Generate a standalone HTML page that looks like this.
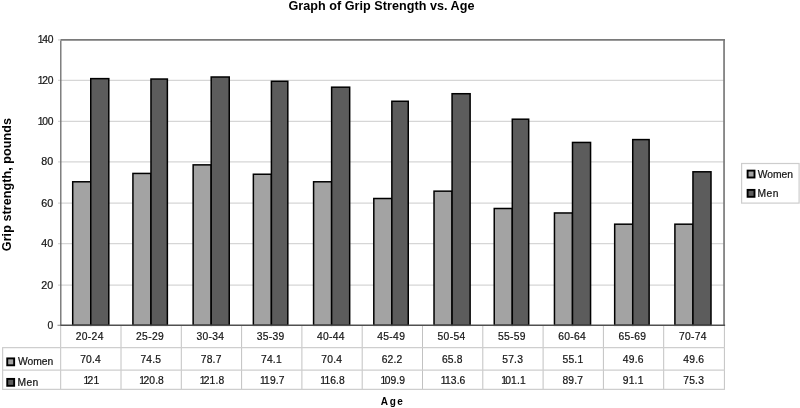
<!DOCTYPE html>
<html><head><meta charset="utf-8"><title>Graph of Grip Strength vs. Age</title>
<style>html,body{margin:0;padding:0;background:#fff;width:800px;height:408px;overflow:hidden;font-family:"Liberation Sans",sans-serif}svg{display:block;position:absolute;left:0;top:0;will-change:transform}</style></head>
<body>
<svg width="800" height="408" viewBox="0 0 800 408" font-family="Liberation Sans, sans-serif">
<rect width="800" height="408" fill="#fff"/>
<g stroke="#d6d6d6" stroke-width="1.25">
<line x1="58.0" x2="724.4" y1="285.10" y2="285.10"/>
<line x1="58.0" x2="724.4" y1="243.60" y2="243.60"/>
<line x1="58.0" x2="724.4" y1="203.00" y2="203.00"/>
<line x1="58.0" x2="724.4" y1="161.80" y2="161.80"/>
<line x1="58.0" x2="724.4" y1="121.30" y2="121.30"/>
<line x1="58.0" x2="724.4" y1="80.30" y2="80.30"/>
</g>
<path d="M60.8 325.3 V39.199999999999996" fill="none" stroke="#6a6a6a" stroke-width="1.3"/>
<path d="M60.15 39.949999999999996 H725.0 M724.05 39.9 V325.3" fill="none" stroke="#7a7a7a" stroke-width="1.7"/>
<line x1="58.0" x2="61.0" y1="39.9" y2="39.9" stroke="#d0d0d0" stroke-width="1.2"/>
<g stroke="#000" stroke-width="1.5">
<rect x="72.70" y="181.78" width="18.05" height="143.52" fill="#a3a3a3"/>
<rect x="90.75" y="78.63" width="18.05" height="246.67" fill="#5c5c5c"/>
<rect x="132.92" y="173.43" width="18.05" height="151.87" fill="#a3a3a3"/>
<rect x="150.97" y="79.04" width="16.4" height="246.26" fill="#5c5c5c"/>
<rect x="193.14" y="164.86" width="18.05" height="160.44" fill="#a3a3a3"/>
<rect x="211.19" y="77.00" width="18.05" height="248.30" fill="#5c5c5c"/>
<rect x="253.36" y="174.24" width="18.05" height="151.06" fill="#a3a3a3"/>
<rect x="271.41" y="81.28" width="16.4" height="244.02" fill="#5c5c5c"/>
<rect x="313.58" y="181.78" width="18.05" height="143.52" fill="#a3a3a3"/>
<rect x="331.63" y="87.19" width="18.05" height="238.11" fill="#5c5c5c"/>
<rect x="373.80" y="198.50" width="18.05" height="126.80" fill="#a3a3a3"/>
<rect x="391.85" y="101.26" width="16.4" height="224.04" fill="#5c5c5c"/>
<rect x="434.02" y="191.16" width="18.05" height="134.14" fill="#a3a3a3"/>
<rect x="452.07" y="93.72" width="18.05" height="231.58" fill="#5c5c5c"/>
<rect x="494.24" y="208.49" width="18.05" height="116.81" fill="#a3a3a3"/>
<rect x="512.29" y="119.20" width="16.4" height="206.10" fill="#5c5c5c"/>
<rect x="554.46" y="212.97" width="18.05" height="112.33" fill="#a3a3a3"/>
<rect x="572.51" y="142.44" width="18.05" height="182.86" fill="#5c5c5c"/>
<rect x="614.68" y="224.19" width="18.05" height="101.11" fill="#a3a3a3"/>
<rect x="632.73" y="139.59" width="16.4" height="185.71" fill="#5c5c5c"/>
<rect x="674.90" y="224.19" width="18.05" height="101.11" fill="#a3a3a3"/>
<rect x="692.95" y="171.80" width="18.05" height="153.50" fill="#5c5c5c"/>
</g>
<line x1="57.5" x2="61.0" y1="325.3" y2="325.3" stroke="#9a9a9a" stroke-width="1.2"/>
<line x1="60.3" x2="725.1" y1="325.3" y2="325.3" stroke="#505050" stroke-width="1.4"/>
<g stroke="#c2c2c2" stroke-width="1">
<line x1="60.70" x2="60.70" y1="326.0" y2="389.4"/>
<line x1="121.00" x2="121.00" y1="326.0" y2="389.4"/>
<line x1="181.30" x2="181.30" y1="326.0" y2="389.4"/>
<line x1="241.60" x2="241.60" y1="326.0" y2="389.4"/>
<line x1="301.90" x2="301.90" y1="326.0" y2="389.4"/>
<line x1="362.20" x2="362.20" y1="326.0" y2="389.4"/>
<line x1="422.50" x2="422.50" y1="326.0" y2="389.4"/>
<line x1="482.80" x2="482.80" y1="326.0" y2="389.4"/>
<line x1="543.10" x2="543.10" y1="326.0" y2="389.4"/>
<line x1="603.40" x2="603.40" y1="326.0" y2="389.4"/>
<line x1="663.70" x2="663.70" y1="326.0" y2="389.4"/>
<line x1="724.40" x2="724.40" y1="326.0" y2="389.4"/>
<line x1="2.7" x2="2.7" y1="347.6" y2="389.4"/>
</g>
<g stroke="#cecece" stroke-width="1.1">
<line x1="2.1" x2="725.0" y1="347.6" y2="347.6"/>
<line x1="2.1" x2="725.0" y1="370.1" y2="370.1"/>
<line x1="2.1" x2="725.0" y1="389.4" y2="389.4"/>
</g>
<g font-size="10.3" fill="#111" stroke="#222" stroke-width="0.22">
<text x="47.5" y="328.9">0</text>
<text x="41.3" y="288.7" textLength="11.9" lengthAdjust="spacingAndGlyphs">20</text>
<text x="41.3" y="247.2" textLength="11.9" lengthAdjust="spacingAndGlyphs">40</text>
<text x="41.3" y="206.6" textLength="11.9" lengthAdjust="spacingAndGlyphs">60</text>
<text x="41.3" y="165.4" textLength="11.9" lengthAdjust="spacingAndGlyphs">80</text>
<text x="53.3" y="124.7" text-anchor="end">1<tspan dx="-1.3" letter-spacing="-0.2">00</tspan></text>
<text x="53.3" y="83.7" text-anchor="end">1<tspan dx="-1.3" letter-spacing="-0.2">20</tspan></text>
<text x="53.3" y="43.3" text-anchor="end">1<tspan dx="-1.3" letter-spacing="-0.2">40</tspan></text>
<text x="89.75" y="339.8" text-anchor="middle" letter-spacing="0.32">20-24</text>
<text x="90.55" y="362.9" text-anchor="middle" letter-spacing="0.2">70.4</text>
<text x="91.35" y="383.9" text-anchor="middle">1<tspan dx="-1.6" letter-spacing="0.1">21</tspan></text>
<text x="150.05" y="339.8" text-anchor="middle" letter-spacing="0.32">25-29</text>
<text x="150.85" y="362.9" text-anchor="middle" letter-spacing="0.2">74.5</text>
<text x="151.65" y="383.9" text-anchor="middle">1<tspan dx="-1.6" letter-spacing="0.1">20.8</tspan></text>
<text x="210.35" y="339.8" text-anchor="middle" letter-spacing="0.32">30-34</text>
<text x="211.15" y="362.9" text-anchor="middle" letter-spacing="0.2">78.7</text>
<text x="211.95" y="383.9" text-anchor="middle">1<tspan dx="-1.6" letter-spacing="0.1">21.8</tspan></text>
<text x="270.65" y="339.8" text-anchor="middle" letter-spacing="0.32">35-39</text>
<text x="271.45" y="362.9" text-anchor="middle" letter-spacing="0.2">74.1</text>
<text x="272.25" y="383.9" text-anchor="middle">1<tspan dx="-1.6" letter-spacing="0.1">19.7</tspan></text>
<text x="330.95" y="339.8" text-anchor="middle" letter-spacing="0.32">40-44</text>
<text x="331.75" y="362.9" text-anchor="middle" letter-spacing="0.2">70.4</text>
<text x="332.55" y="383.9" text-anchor="middle">1<tspan dx="-1.6" letter-spacing="0.1">16.8</tspan></text>
<text x="391.25" y="339.8" text-anchor="middle" letter-spacing="0.32">45-49</text>
<text x="392.05" y="362.9" text-anchor="middle" letter-spacing="0.2">62.2</text>
<text x="392.85" y="383.9" text-anchor="middle">1<tspan dx="-1.6" letter-spacing="0.1">09.9</tspan></text>
<text x="451.55" y="339.8" text-anchor="middle" letter-spacing="0.32">50-54</text>
<text x="452.35" y="362.9" text-anchor="middle" letter-spacing="0.2">65.8</text>
<text x="453.15" y="383.9" text-anchor="middle">1<tspan dx="-1.6" letter-spacing="0.1">13.6</tspan></text>
<text x="511.85" y="339.8" text-anchor="middle" letter-spacing="0.32">55-59</text>
<text x="512.65" y="362.9" text-anchor="middle" letter-spacing="0.2">57.3</text>
<text x="513.45" y="383.9" text-anchor="middle">1<tspan dx="-1.6" letter-spacing="0.1">01.1</tspan></text>
<text x="572.15" y="339.8" text-anchor="middle" letter-spacing="0.32">60-64</text>
<text x="572.95" y="362.9" text-anchor="middle" letter-spacing="0.2">55.1</text>
<text x="572.85" y="383.9" text-anchor="middle" letter-spacing="0.2">89.7</text>
<text x="632.45" y="339.8" text-anchor="middle" letter-spacing="0.32">65-69</text>
<text x="633.25" y="362.9" text-anchor="middle" letter-spacing="0.2">49.6</text>
<text x="633.15" y="383.9" text-anchor="middle" letter-spacing="0.2">91.1</text>
<text x="692.95" y="339.8" text-anchor="middle" letter-spacing="0.32">70-74</text>
<text x="693.75" y="362.9" text-anchor="middle" letter-spacing="0.2">49.6</text>
<text x="693.65" y="383.9" text-anchor="middle" letter-spacing="0.2">75.3</text>
<text x="17.9" y="364.6">Women</text>
<text x="17.4" y="385.5" letter-spacing="0.45">Men</text>
<text x="757.7" y="177.7">Women</text>
<text x="757.4" y="197.2" letter-spacing="0.5">Men</text>
</g>
<g stroke="#000" stroke-width="1.9">
<rect x="7.25" y="358.4" width="6.9" height="6.9" fill="#a3a3a3"/>
<rect x="7.25" y="378.9" width="6.9" height="6.9" fill="#5c5c5c"/>
</g>
<rect x="741.6" y="163.5" width="57.5" height="39.6" fill="none" stroke="#cdcdcd" stroke-width="1.2"/>
<g stroke="#000" stroke-width="1.9">
<rect x="747.6" y="170.6" width="6.9" height="6.9" fill="#a3a3a3"/>
<rect x="747.6" y="189.9" width="6.9" height="6.9" fill="#5c5c5c"/>
</g>
<g font-weight="bold" text-anchor="middle" fill="#000">
<text x="381.5" y="9.8" font-size="12.6" textLength="186" lengthAdjust="spacing">Graph of Grip Strength vs. Age</text>
<text x="392.7" y="404.6" font-size="10" letter-spacing="1.6">Age</text>
<text transform="translate(10.7,184.6) rotate(-90)" font-size="12.6" textLength="133.2" lengthAdjust="spacing">Grip strength, pounds</text>
</g>
</svg>
</body></html>
